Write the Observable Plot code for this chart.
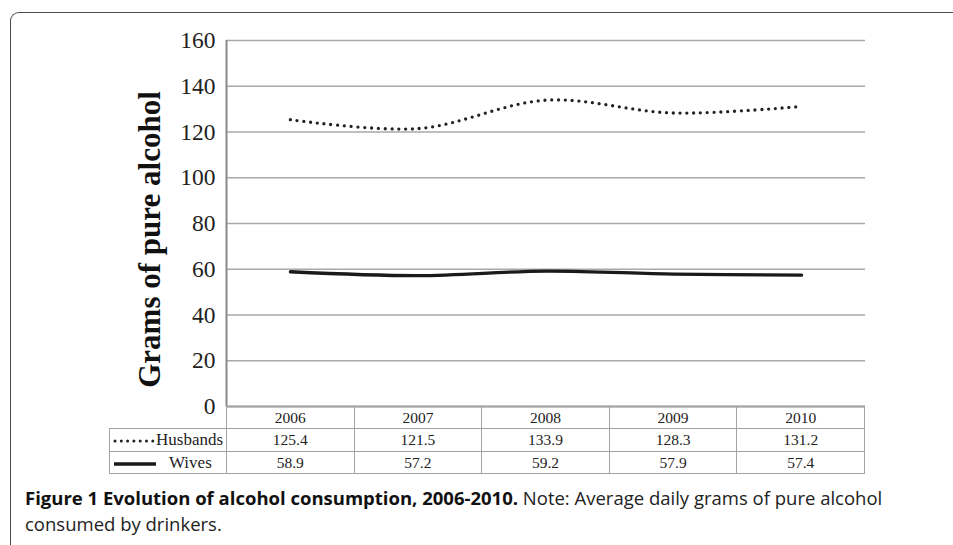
<!DOCTYPE html>
<html>
<head>
<meta charset="utf-8">
<script src="https://cdn.jsdelivr.net/npm/d3@7"></script>
<script src="https://cdn.jsdelivr.net/npm/@observablehq/plot@0.6"></script>
<style>
  html, body { margin: 0; padding: 0; background: #fff; }
  #wrap { position: relative; width: 953px; height: 545px; overflow: hidden; }
  #frame { position: absolute; left: 10px; top: 12px; width: 960px; height: 560px;
    border-top: 1.5px solid #4a4a4a; border-left: 1.5px solid #4a4a4a; border-top-left-radius: 9px; }
  #chart { position: absolute; left: 0; top: 0; }
  #tbl { position: absolute; left: 109px; top: 406px; border-collapse: collapse; table-layout: fixed;
    width: 756px; font-family: "Liberation Serif", serif; color: #222; }
  #tbl td { border: 1.5px solid #a3a3a3; text-align: center; padding: 0; font-size: 15.5px; }
  #tbl tr.h td { height: 21px; }
  #tbl tr.r1 td { height: 22px; }
  #tbl tr.r2 td { height: 21px; }
  #tbl td.lab { font-size: 17px; text-align: left; white-space: nowrap; }
  #tbl td.blank { border: none; }
  #caption { position: absolute; left: 25px; top: 485px; width: 900px; font-family: "Open Sans", sans-serif;
    font-size: 18.5px; line-height: 26px; color: #222; letter-spacing: 0px; }
  #caption b { font-weight: 700; color: #111; }
</style>
</head>
<body>
<div id="wrap">
  <div id="frame"></div>
  <div id="chart"></div>
  <table id="tbl"></table>
  <div id="caption"><b>Figure 1 Evolution of alcohol consumption, 2006-2010.</b> Note: Average daily grams of pure alcohol<br>consumed by drinkers.</div>
</div>
<script>
const years = [2006, 2007, 2008, 2009, 2010];
const husbands = [125.4, 121.5, 133.9, 128.3, 131.2];
const wives = [58.9, 57.2, 59.2, 57.9, 57.4];
const yTicks = [0, 20, 40, 60, 80, 100, 120, 140, 160];
const seriesNames = ["Husbands", "Wives"];
const yLabel = "Grams of pure alcohol";

const hData = years.map((y, i) => ({year: y, value: husbands[i]}));
const wData = years.map((y, i) => ({year: y, value: wives[i]}));

const plot = Plot.plot({
  width: 953,
  height: 410,
  marginLeft: 226,
  marginRight: 88,
  marginTop: 40,
  marginBottom: 4,
  style: {fontFamily: "Liberation Serif, serif", fontSize: "23.5px", color: "#222", background: "transparent", overflow: "visible"},
  x: {domain: [years[0] - 0.5, years[years.length - 1] + 0.5], axis: null},
  y: {domain: [0, 160]},
  marks: [
    Plot.gridY(yTicks.slice(1), {stroke: "#a8a8a8", strokeOpacity: 1, strokeWidth: 1.5}),
    Plot.axisY(yTicks, {tickSize: 0, tickPadding: 11, label: null, fill: "#222"}),
    Plot.ruleX([years[0] - 0.5], {stroke: "#8a8a8a", strokeWidth: 2}),
    Plot.ruleY([0], {stroke: "#8a8a8a", strokeWidth: 2}),
    Plot.line(hData, {x: "year", y: "value", stroke: "#222", strokeWidth: 3.3, strokeDasharray: "0,6.8", strokeLinecap: "round", curve: "catmull-rom"}),
    Plot.line(wData, {x: "year", y: "value", stroke: "#1a1a1a", strokeWidth: 3.3, curve: "catmull-rom"}),
    Plot.text([yLabel], {frameAnchor: "left", textAnchor: "middle", dx: -76, dy: 16, rotate: -90, fontSize: 31, fontWeight: "bold", fill: "#111", text: d => d})
  ]
});
document.getElementById("chart").appendChild(plot);

// data table under the chart
const tbl = document.getElementById("tbl");
let html = '<colgroup><col style="width:117px">' + years.map(() => '<col>').join('') + '</colgroup>';
html += '<tr class="h"><td class="blank"></td>' + years.map(y => `<td>${y}</td>`).join('') + '</tr>';
const hSample = '<svg width="44" height="10" style="vertical-align:middle;margin-left:2px"><line x1="3" y1="5" x2="41" y2="5" stroke="#222" stroke-width="3" stroke-linecap="round" stroke-dasharray="0,6.3"/></svg>';
const wSample = '<svg width="56" height="10" style="vertical-align:middle;margin-left:3px"><line x1="1" y1="5" x2="43" y2="5" stroke="#1a1a1a" stroke-width="3.5"/></svg>';
html += `<tr class="r1"><td class="lab">${hSample}${seriesNames[0]}</td>` + husbands.map(v => `<td>${v.toFixed(1)}</td>`).join('') + '</tr>';
html += `<tr class="r2"><td class="lab">${wSample}${seriesNames[1]}</td>` + wives.map(v => `<td>${v.toFixed(1)}</td>`).join('') + '</tr>';
tbl.innerHTML = html;
</script>
</body>
</html>
